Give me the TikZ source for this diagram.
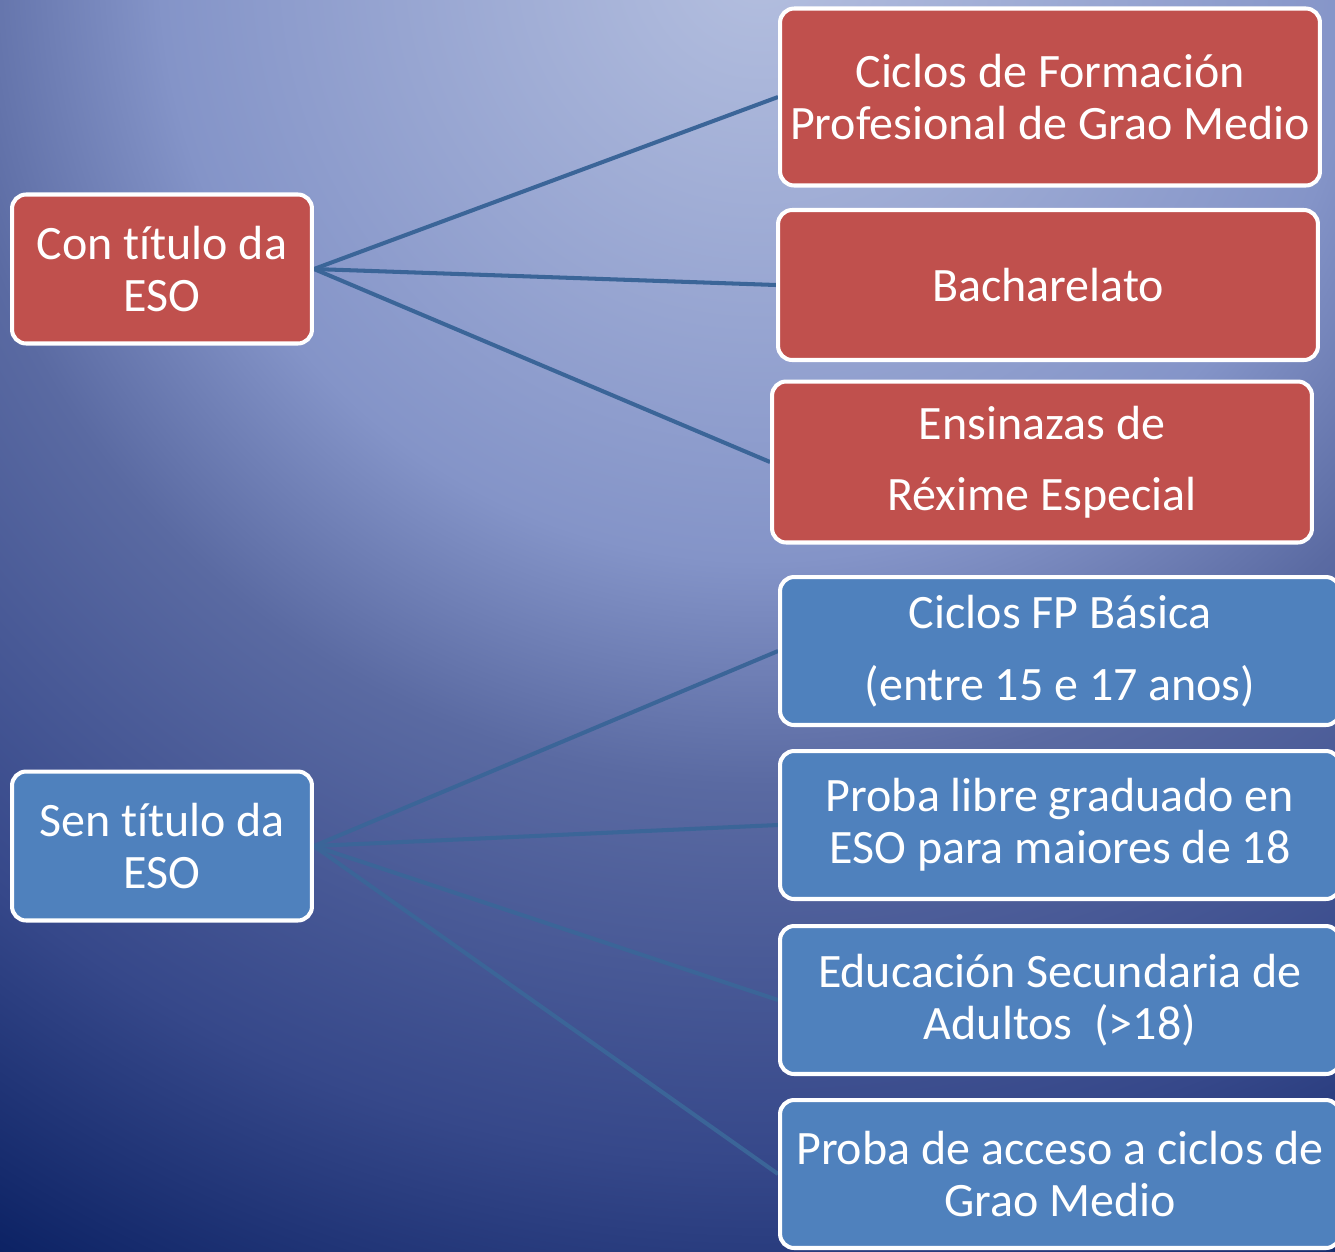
\documentclass[tikz,border=0pt]{standalone}
\usepackage{fontspec}
\setmainfont{Carlito}[Ligatures=NoCommon]
\usetikzlibrary{positioning,backgrounds}
\definecolor{bglight}{HTML}{B4BFDF}
\definecolor{bgmida}{HTML}{8494C8}
\definecolor{bgmidb}{HTML}{5A6AA2}
\definecolor{bgmidc}{HTML}{36488A}
\definecolor{bgdark}{HTML}{0C2264}
\definecolor{boxred}{HTML}{C0504D}
\definecolor{boxblue}{HTML}{4F81BD}
\definecolor{linkblue}{HTML}{3B6598}
\pgfdeclareradialshading{bgshade}{\pgfpoint{0bp}{0bp}}{color(0bp)=(bglight); color(10bp)=(bgmida); color(13.75bp)=(bgmidb); color(20bp)=(bgmidc); color(25bp)=(bgdark); color(50bp)=(bgdark)}
\pgfdeclarelayer{bg}
\pgfdeclarelayer{links}
\pgfsetlayers{bg,links,main}

\begin{document}
\begin{tikzpicture}[x=0.02cm,y=-0.02cm]
      %%%%%%%%%%%%%%%%%%%%%%%%%%%%%%%%%%%%%%%%%%%%%%%%%%
      %% paths after the ESO
      %%%%%%%%%%%%%%%%%%%%%%%%%%%%%%%%%%%%%%%%%%%%%%%%%%
      \tikzstyle{rnode} = [rectangle, rounded corners=8pt, draw=white, line width=2.3pt, text=white, align=center, inner sep=0pt, font=\fontsize{27.3}{29.6}\selectfont]
      \tikzstyle{pnode} = [rnode, fill=boxred]
      \tikzstyle{bnode} = [rnode, fill=boxblue]
      \tikzstyle{link} = [draw=linkblue, line width=2.3pt]
      \useasboundingbox (0,0) rectangle (1335,1251);
      \begin{pgfonlayer}{bg}
        \shade[shading=bgshade] (760,-40) circle (1500);
      \end{pgfonlayer}
      % with the title
      \node[pnode, minimum width=6cm, minimum height=2.98cm] (con) at (162,269) {Con título da\\ESO};
      \node[pnode, minimum width=10.8cm, minimum height=3.54cm] (cfgm) at (1050,97) {Ciclos de Formación\\Profesional de Grao Medio};
      \node[pnode, minimum width=10.8cm, minimum height=3cm] (bach) at (1048,285) {Bacharelato};
      \node[pnode, minimum width=10.8cm, minimum height=3.22cm] (ens) at (1042,462) {Ensinazas de\\[11pt]Réxime Especial};
      % without the title
      \node[bnode, minimum width=6cm, minimum height=2.98cm] (sen) at (162,846) {Sen título da\\ESO};
      \node[bnode, minimum width=11.2cm, minimum height=2.96cm] (fpb) at (1060,651) {Ciclos FP Básica\\[11pt](entre 15 e 17 anos)};
      \node[bnode, minimum width=11.2cm, minimum height=2.96cm] (libre) at (1060,825) {Proba libre graduado en\\ESO para maiores de 18};
      \node[bnode, minimum width=11.2cm, minimum height=2.96cm] (adult) at (1060,1000) {Educación Secundaria de\\Adultos\ \ (>18)};
      \node[bnode, minimum width=11.2cm, minimum height=2.96cm] (acceso) at (1060,1174) {Proba de acceso a ciclos de\\Grao Medio};
      \begin{pgfonlayer}{links}
        \foreach \t in {cfgm,bach,ens} \draw[link] (con.east) -- (\t.west);
        \foreach \t in {fpb,libre,adult,acceso} \draw[link] (sen.east) -- (\t.west);
      \end{pgfonlayer}
    \end{tikzpicture}
\end{document}
